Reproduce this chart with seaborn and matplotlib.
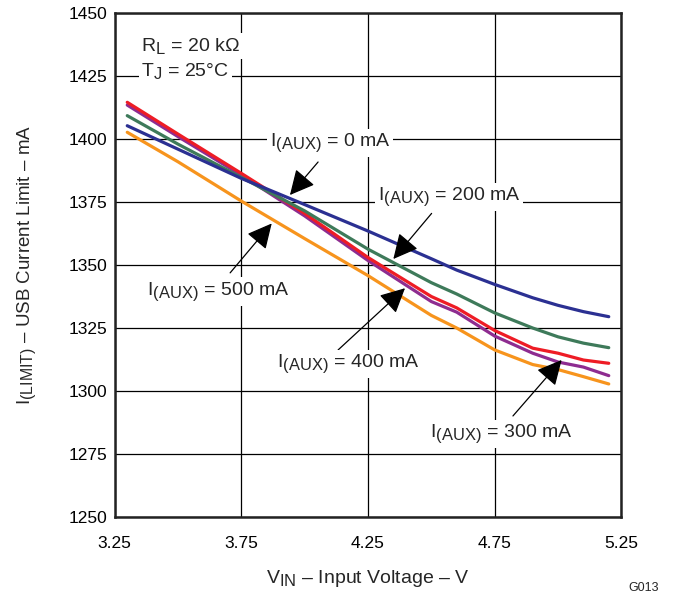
import numpy as np
import pandas as pd
import matplotlib
matplotlib.use("Agg")
import matplotlib.pyplot as plt
import matplotlib._mathtext as mathtext_interno
import seaborn as sns

# Datos (V_IN en V, I_LIMIT en mA)
vin = [3.3, 3.5, 3.75, 4.0, 4.25, 4.5, 4.6, 4.75, 4.9, 5.0, 5.1, 5.2]
i_aux_0 = [1405.3, 1396.0, 1384.4, 1374.0, 1363.5, 1352.5, 1348.0, 1342.3, 1337.0, 1334.0, 1331.5, 1329.5]
i_aux_200 = [1409.3, 1398.0, 1384.8, 1371.5, 1356.3, 1343.0, 1338.5, 1331.0, 1325.0, 1321.5, 1319.0, 1317.2]
i_aux_300 = [1413.5, 1401.0, 1385.7, 1369.5, 1351.8, 1335.5, 1331.3, 1321.8, 1315.0, 1311.5, 1309.5, 1306.1]
i_aux_400 = [1414.6, 1402.0, 1386.4, 1370.5, 1353.0, 1337.5, 1333.0, 1324.0, 1317.0, 1315.0, 1312.3, 1311.0]
i_aux_500 = [1402.7, 1391.0, 1375.4, 1360.5, 1345.8, 1330.0, 1325.0, 1316.3, 1310.5, 1308.5, 1305.7, 1302.8]

series = ["500", "300", "400", "200", "0"]
colores = ["#F7941D", "#8E2C90", "#EE1C25", "#3E7A5A", "#2B3092"]
x_ticks = [3.25, 3.75, 4.25, 4.75, 5.25]
y_ticks = [1250, 1275, 1300, 1325, 1350, 1375, 1400, 1425, 1450]

sns.set_style("white")
plt.rcParams['font.family'] = ['Liberation Sans', 'DejaVu Sans']
plt.rcParams['mathtext.fontset'] = 'custom'
plt.rcParams['mathtext.rm'] = 'Liberation Sans'
# subindices casi del tamano del texto, como en la hoja de datos
mathtext_interno.SHRINK_FACTOR = 0.85

valores = {"0": i_aux_0, "200": i_aux_200, "300": i_aux_300, "400": i_aux_400, "500": i_aux_500}
df = pd.concat([pd.DataFrame({"vin": vin, "ilim": valores[s], "aux": s}) for s in series])

fig = plt.figure(figsize=(6.74, 5.96), dpi=100)
ax = fig.add_axes([0.170, 0.1326, 0.752, 0.8454])

sns.lineplot(data=df, x="vin", y="ilim", hue="aux", hue_order=series,
             palette=colores, linewidth=2.3, legend=False, ax=ax, sort=False)

ax.set_xlim(3.25, 5.25)
ax.set_ylim(1250, 1450)
ax.set_xticks(x_ticks)
ax.set_yticks(y_ticks)
ax.set_xticklabels([f"{t:.2f}" for t in x_ticks])
ax.grid(True, color="black", linewidth=0.9)
ax.set_axisbelow(True)
for s in ax.spines.values():
    s.set_linewidth(1.8)
    s.set_color("#222222")
ax.tick_params(axis="both", length=0, labelsize=12.5, pad=5, colors="black")
ax.tick_params(axis="x", pad=14)

ax.set_xlabel(r"$\mathregular{V_{IN}}$ – Input Voltage – V", fontsize=14, labelpad=12)
ax.set_ylabel(r"$\mathregular{I_{(LIMIT)}}$ – USB Current Limit – mA", fontsize=13.5, labelpad=22)

caja = dict(facecolor="white", edgecolor="none", pad=2)
ax.text(0.053, 0.935, r"$\mathregular{R_L}$ = 20 k$\Omega$", transform=ax.transAxes,
        fontsize=14, va="center", bbox=caja)
ax.text(0.053, 0.885, r"$\mathregular{T_J}$ = 25°C", transform=ax.transAxes,
        fontsize=14, va="center", bbox=caja)

flecha = dict(arrowstyle="-|>,head_length=0.9,head_width=0.45", color="black",
              linewidth=0.9, mutation_scale=17, shrinkA=0, shrinkB=0)

# (texto, pos texto, cola, punta)
etiquetas = [
    ("0", (4.101, 1398.6), (4.053, 1390.9), (3.942, 1377.8)),
    ("200", (4.569, 1377.0), (4.501, 1370.5), (4.350, 1352.4)),
    ("500", (3.660, 1339.5), (3.706, 1346.9), (3.870, 1366.5)),
    ("400", (4.173, 1310.7), (4.132, 1316.3), (4.396, 1340.8)),
    ("300", (4.777, 1283.0), (4.822, 1290.1), (5.014, 1312.3)),
]
for aux, pos, cola, punta in etiquetas:
    ax.annotate("", xy=punta, xytext=cola, arrowprops=flecha)
    ax.text(pos[0], pos[1], r"$\mathregular{I_{(AUX)}}$ = " + aux + " mA",
            fontsize=14, ha="center", va="center", bbox=caja, zorder=5)

fig.text(0.978, 0.004, "G013", fontsize=9, ha="right", va="bottom")

fig.savefig("out.png", dpi=100)
